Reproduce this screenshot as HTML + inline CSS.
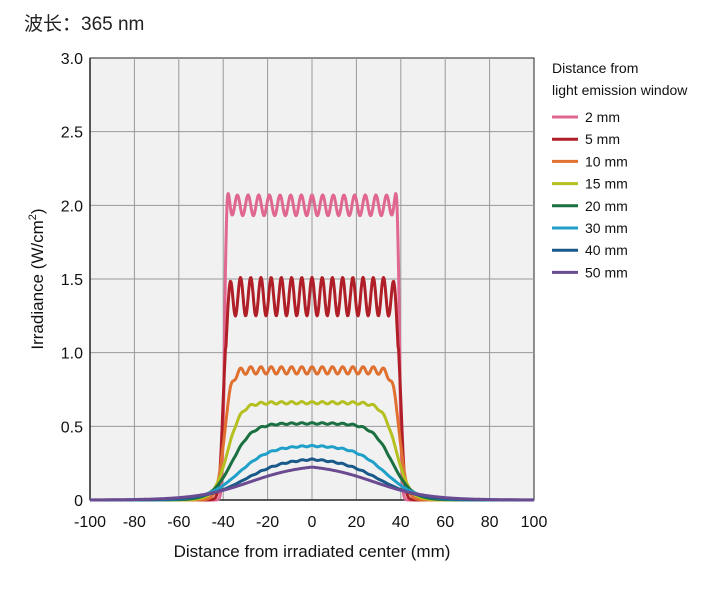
<!DOCTYPE html>
<html><head><meta charset="utf-8"><style>
body{margin:0;background:#fff;width:720px;height:592px;overflow:hidden;font-family:"Liberation Sans","Noto Sans CJK SC",sans-serif}
</style></head><body>
<svg id="s" width="720" height="592" xmlns="http://www.w3.org/2000/svg" font-family="Liberation Sans, Noto Sans CJK SC, sans-serif">
<text x="24" y="30" font-size="19" fill="#222">波长：365 nm</text>
<rect x="90" y="58" width="444" height="442" fill="#f0f1f0" stroke="#222" stroke-width="1"/>
<g id="grid" stroke="#999" stroke-width="1"></g>
<g id="ticks" font-size="16" fill="#111"></g>
<line x1="90" y1="500" x2="534" y2="500" stroke="#222" stroke-width="1.5"/>
<line x1="90" y1="58" x2="90" y2="500" stroke="#222" stroke-width="1.5"/>
<g id="curves" fill="none" stroke-width="3" stroke-linejoin="round"></g>
<text x="312" y="557" font-size="17" text-anchor="middle" fill="#111">Distance from irradiated center (mm)</text>
<text transform="translate(43,279) rotate(-90)" font-size="17" text-anchor="middle" fill="#111">Irradiance (W/cm<tspan font-size="11" dy="-7">2</tspan><tspan dy="7">)</tspan></text>
<text x="552" y="73" font-size="14" fill="#111">Distance from</text>
<text x="552" y="95" font-size="14" fill="#111">light emission window</text>
<g id="legend" font-size="14" fill="#111"></g>
</svg>
<script>
var X=function(v){return 90+(v+100)*2.22},Y=function(v){return 500-v*147.33};
var g=document.getElementById('grid'),t=document.getElementById('ticks'),ns='http://www.w3.org/2000/svg';
function el(p,n,a,txt){var e=document.createElementNS(ns,n);for(var k in a)e.setAttribute(k,a[k]);if(txt!=null)e.textContent=txt;p.appendChild(e);return e}
for(var v=-80;v<=80;v+=20)el(g,'line',{x1:X(v),y1:58,x2:X(v),y2:500});
for(var v=0.5;v<3;v+=0.5)el(g,'line',{x1:90,y1:Y(v),x2:534,y2:Y(v)});
for(var v=-100;v<=100;v+=20)el(t,'text',{x:X(v),y:527,'text-anchor':'middle'},v);
['0','0.5','1.0','1.5','2.0','2.5','3.0'].forEach(function(s,i){el(t,'text',{x:83,y:Y(i*0.5)+6,'text-anchor':'end'},s)});
var C=[['2 mm','#e06890',2.0,39.5,0.45,0.07,4.8],['5 mm','#b01e28',1.38,40,0.8,0.13,4.6],['10 mm','#e07030',0.88,39.5,1.6,0.025,4.6],['15 mm','#b5c020',0.66,38,3,0.008,4.6],['20 mm','#1a7040',0.52,36,4.5,0.005,4.6],['30 mm','#20a0c8',0.37,33,7,0.004,4.6],['40 mm','#1a5a8a',0.285,30,9,0.004,4.6],['50 mm','#6a4a90',0.245,28,12,0,4.6]];
var cg=document.getElementById('curves'),lg=document.getElementById('legend');
C.forEach(function(c,i){
 var d='';
 for(var x=-100;x<=100;x+=0.25){
  var s=1/(1+Math.exp((Math.abs(x)-c[3])/c[4]));
  var osc=c[5]*Math.cos(2*Math.PI*x/c[6])*(Math.abs(x)<c[3]-1?1:0.5);
  var edge=(i==0)?0.08*Math.exp(-Math.pow((Math.abs(x)-38)/1.2,2)):0;
  var v=c[2]*s+osc*s+edge*s;
  d+=(d?'L':'M')+X(x).toFixed(1)+','+Y(v).toFixed(1);
 }
 el(cg,'path',{d:d,stroke:c[1]});
 var y=117+i*22.2;
 el(lg,'line',{x1:552,y1:y,x2:578,y2:y,stroke:c[1],'stroke-width':3});
 el(lg,'text',{x:585,y:y+5},c[0]);
});
</script>
</body></html>
